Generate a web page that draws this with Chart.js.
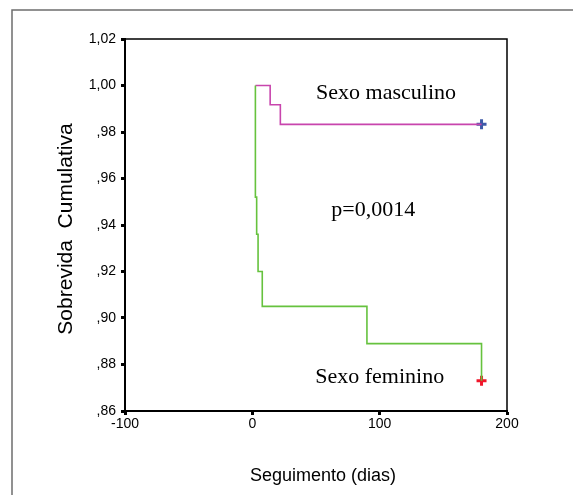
<!DOCTYPE html>
<html>
<head>
<meta charset="utf-8">
<script src="https://cdn.jsdelivr.net/npm/chart.js@4/dist/chart.umd.min.js"></script>
<style>
  html, body { margin: 0; padding: 0; background: #fff; }
  #wrap { width: 573px; height: 495px; }
</style>
</head>
<body>
<div id="wrap"><canvas id="c" width="573" height="495"></canvas></div>
<script>
// ---- data ----
const maleTimes = [2.4, 14, 22, 180];
const maleSurvival = [1.0, 0.9917, 0.9833, 0.9833];
const femaleTimes = [2.4, 2.4, 3.4, 4.5, 7.8, 90, 180, 180];
const femaleSurvival = [1.0, 0.952, 0.936, 0.920, 0.905, 0.889, 0.889, 0.873];
const maleCensorTime = [180];
const maleCensorSurvival = [0.9833];
const femaleCensorTime = [180];
const femaleCensorSurvival = [0.873];
const xTickValues = [-100, 0, 100, 200];
const yTickValues = [0.86, 0.88, 0.90, 0.92, 0.94, 0.96, 0.98, 1.00, 1.02];
const annotations = [
  { text: 'Sexo masculino', x: 105, y: 0.9968 },
  { text: 'p=0,0014', x: 95, y: 0.9465 },
  { text: 'Sexo feminino', x: 100, y: 0.8746 }
];
const xTitle = 'Seguimento (dias)';
const yTitle = 'Sobrevida  Cumulativa';

const toPts = (xs, ys) => xs.map((x, i) => ({ x: x, y: ys[i] }));

const framePlugin = {
  id: 'frame',
  beforeDraw(chart) {
    const ctx = chart.ctx;
    ctx.save();
    ctx.strokeStyle = '#6e6e6e';
    ctx.lineWidth = 1.5;
    ctx.beginPath();
    ctx.moveTo(12, 495);
    ctx.lineTo(12, 10);
    ctx.lineTo(573, 10);
    ctx.stroke();
    ctx.restore();
  },
  afterDraw(chart) {
    const ctx = chart.ctx;
    const a = chart.chartArea;
    ctx.save();
    ctx.strokeStyle = '#000';
    ctx.lineWidth = 1.5;
    ctx.beginPath();
    ctx.moveTo(a.left, a.top);
    ctx.lineTo(a.right, a.top);
    ctx.lineTo(a.right, a.bottom);
    ctx.stroke();
    // annotations
    const xs = chart.scales.x, ys = chart.scales.y;
    ctx.fillStyle = '#000';
    ctx.font = '22px "Liberation Serif", "Times New Roman", serif';
    ctx.textAlign = 'center';
    ctx.textBaseline = 'middle';
    annotations.forEach(an => {
      ctx.fillText(an.text, xs.getPixelForValue(an.x), ys.getPixelForValue(an.y));
    });
    // axis titles
    ctx.font = '18px "Liberation Sans", Arial, sans-serif';
    ctx.fillText(xTitle, (a.left + a.right) / 2 + 7, 476);
    ctx.save();
    ctx.translate(66, (a.top + a.bottom) / 2 + 4);
    ctx.rotate(-Math.PI / 2);
    ctx.font = '21px "Liberation Sans", Arial, sans-serif';
    ctx.fillText(yTitle, 0, 0);
    ctx.restore();
    ctx.restore();
  }
};

const tickFont = { family: '"Liberation Sans", Arial, sans-serif', size: 14 };

new Chart(document.getElementById('c'), {
  type: 'line',
  data: {
    datasets: [
      {
        label: 'Sexo feminino',
        data: toPts(femaleTimes, femaleSurvival),
        borderColor: '#66c23e',
        borderWidth: 1.6,
        stepped: 'before',
        pointRadius: 0,
        fill: false
      },
      {
        label: 'Sexo masculino',
        data: toPts(maleTimes, maleSurvival),
        borderColor: '#c845ad',
        borderWidth: 1.6,
        stepped: 'before',
        pointRadius: 0,
        fill: false
      },
      {
        label: 'Censurado masculino',
        data: toPts(maleCensorTime, maleCensorSurvival),
        showLine: false,
        pointStyle: 'cross',
        pointRadius: 5,
        borderColor: '#3d5aa8',
        borderWidth: 3
      },
      {
        label: 'Censurado feminino',
        data: toPts(femaleCensorTime, femaleCensorSurvival),
        showLine: false,
        pointStyle: 'cross',
        pointRadius: 5,
        borderColor: '#f0162a',
        borderWidth: 3
      }
    ]
  },
  options: {
    responsive: false,
    animation: false,
    devicePixelRatio: 1,
    layout: { padding: { top: 39, right: 66, bottom: 0, left: 0 } },
    plugins: { legend: { display: false }, tooltip: { enabled: false } },
    scales: {
      x: {
        type: 'linear',
        min: -100,
        max: 200,
        afterBuildTicks: s => { s.ticks = xTickValues.map(v => ({ value: v })); },
        afterFit: s => { s.height = 84; },
        grid: { drawOnChartArea: false, drawTicks: true, tickLength: 4, tickWidth: 3, tickColor: '#000' },
        border: { display: true, color: '#000', width: 2 },
        ticks: { color: '#000', font: tickFont, padding: 1, maxRotation: 0, callback: v => String(v) },
        title: { display: false }
      },
      y: {
        type: 'linear',
        min: 0.86,
        max: 1.02,
        afterBuildTicks: s => { s.ticks = yTickValues.map(v => ({ value: v })); },
        afterFit: s => { s.width = 125; },
        grid: { drawOnChartArea: false, drawTicks: true, tickLength: 4, tickWidth: 3, tickColor: '#000' },
        border: { display: true, color: '#000', width: 2 },
        ticks: {
          color: '#000', font: tickFont, padding: 5,
          callback: v => { const s = Number(v).toFixed(2).replace('.', ','); return s.startsWith('0') ? s.slice(1) : s; }
        },
        title: { display: false }
      }
    }
  },
  plugins: [framePlugin]
});
</script>
</body>
</html>
